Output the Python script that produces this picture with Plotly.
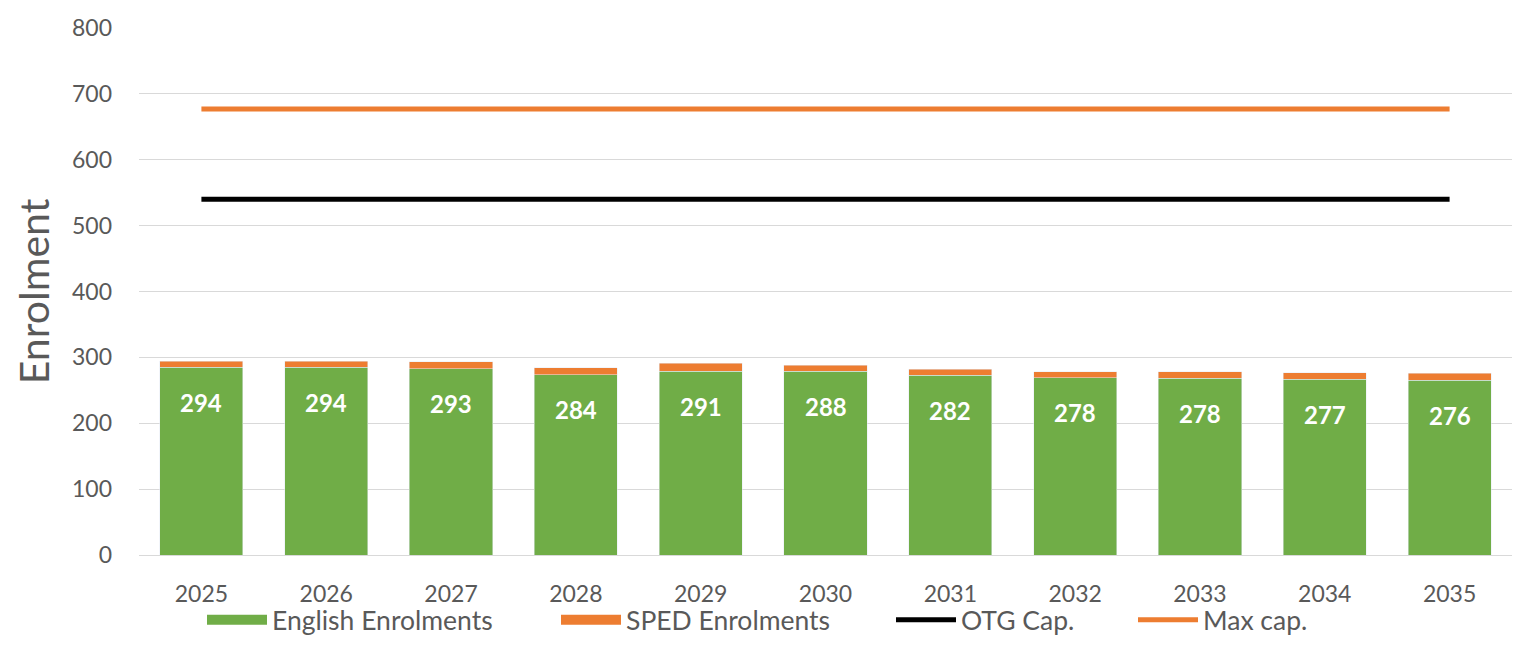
import plotly.graph_objects as go

years = ["2025", "2026", "2027", "2028", "2029", "2030", "2031", "2032", "2033", "2034", "2035"]
total_labels = [294, 294, 293, 284, 291, 288, 282, 278, 278, 277, 276]
sped = [9, 9, 10, 10, 12, 9, 9, 9, 10, 10, 11]
english = [t - s for t, s in zip(total_labels, sped)]
otg_cap = [540] * len(years)
max_cap = [677] * len(years)

GREEN = "#70AD47"
ORANGE = "#ED7D31"
GRAY = "#595959"
FONT = "Lato, 'Open Sans', sans-serif"

fig = go.Figure()
fig.add_trace(go.Bar(x=years, y=english, name="English Enrolments", marker_color=GREEN,
                     showlegend=False))
fig.add_trace(go.Bar(x=years, y=sped, name="SPED Enrolments", marker_color=ORANGE,
                     showlegend=False))
fig.add_trace(go.Scatter(x=years, y=otg_cap, mode="lines", name="OTG Cap.",
                         line=dict(color="#000000", width=5), showlegend=False))
fig.add_trace(go.Scatter(x=years, y=max_cap, mode="lines", name="Max cap.",
                         line=dict(color=ORANGE, width=5), showlegend=False))

W, H = 1519, 645
# legend entries
legend_specs = [
    ("English Enrolments", GREEN, 20, "legend", 273 - 71),
    ("SPED Enrolments", ORANGE, 20, "legend2", 627 - 71),
    ("OTG Cap.", "#000000", 5, "legend3", 962 - 71),
    ("Max cap.", ORANGE, 5, "legend4", 1204 - 71),
]
plot_left, plot_right = 139, 1512
plot_top, plot_bottom = 28, 555
legend_layouts = {}
for name, color, w, lg, px in legend_specs:
    fig.add_trace(go.Scatter(x=[None], y=[None], mode="lines", name=name,
                             line=dict(color=color, width=w), legend=lg, showlegend=True))
    legend_layouts[lg] = dict(
        xref="container", x=px / W, xanchor="left",
        yref="container", y=1 - 620 / H, yanchor="middle",
        orientation="h", bgcolor="rgba(0,0,0,0)", borderwidth=0,
        font=dict(family=FONT, size=26.5, color=GRAY), itemwidth=60,
    )

annotations = []
for i, (e, t) in enumerate(zip(english, total_labels)):
    annotations.append(dict(x=i, xref="x", y=e, yref="y", text=str(t), showarrow=False,
                            yanchor="middle", yshift=-35,
                            font=dict(family=FONT, size=24, color="white", weight="bold")))

fig.update_layout(
    width=W, height=H,
    margin=dict(l=plot_left, r=W - plot_right, t=plot_top, b=H - plot_bottom),
    barmode="stack", bargap=0.334,
    plot_bgcolor="white", paper_bgcolor="white",
    font=dict(family=FONT, color=GRAY),
    annotations=annotations,
    **legend_layouts,
)
fig.update_xaxes(type="category", categoryorder="array", categoryarray=years,
                 range=[-0.5, len(years) - 0.5], automargin=False,
                 showgrid=False, showline=True, linecolor="#D9D9D9", linewidth=1,
                 tickfont=dict(family=FONT, size=23, color=GRAY), ticklabelstandoff=18,
                 fixedrange=True)
fig.update_yaxes(range=[0, 800], dtick=100, showgrid=True, gridcolor="#D9D9D9", gridwidth=1,
                 zeroline=False, tickfont=dict(family=FONT, size=23, color=GRAY),
                 ticklabelstandoff=26, automargin=False,
                 title=dict(text="Enrolment", font=dict(family=FONT, size=41, color=GRAY),
                            standoff=9),
                 fixedrange=True)

fig.write_html("out.html", config={"displayModeBar": False},
               post_script="document.body.style.margin='0';")
